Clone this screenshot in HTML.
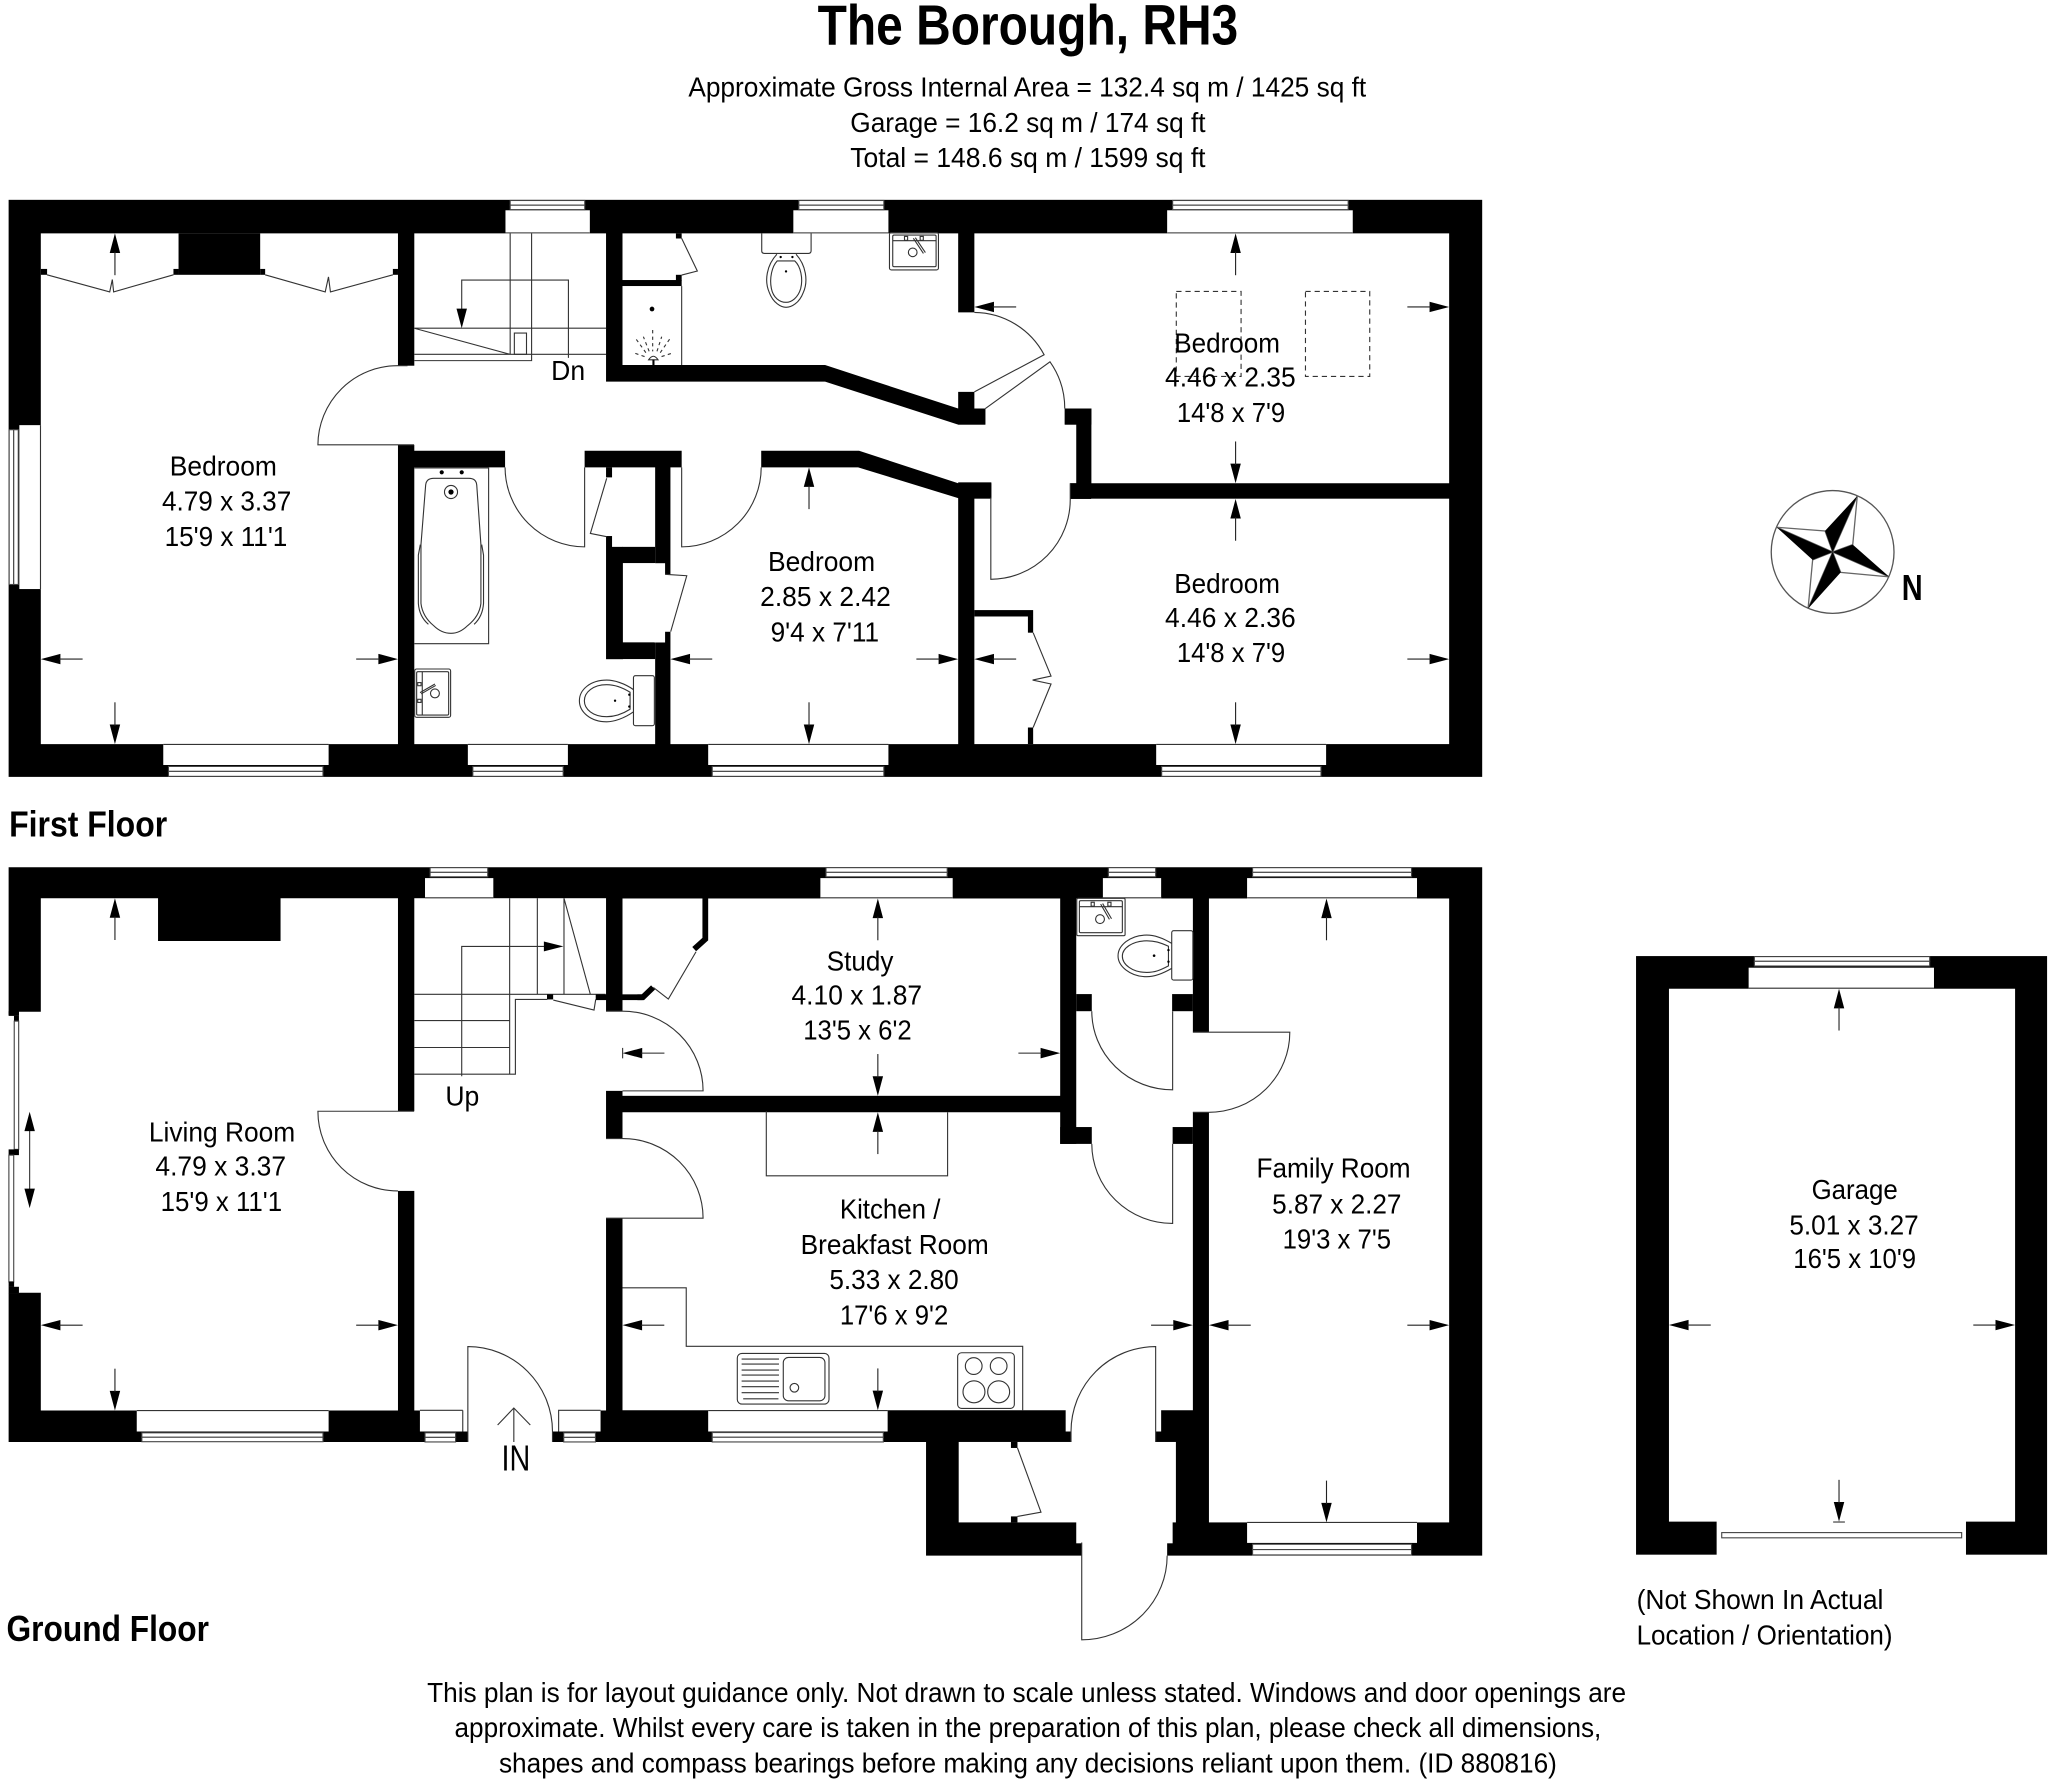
<!DOCTYPE html>
<html lang="en"><head><meta charset="utf-8"><title>The Borough, RH3</title>
<style>
html,body{margin:0;padding:0;background:#fff}
svg{display:block}
text{font-family:"Liberation Sans",Arial,sans-serif;fill:#000;font-size:21px}
.b{font-weight:bold}
.w{fill:#fff;stroke:none}
.k{fill:#000;stroke:none}
.l{fill:none;stroke:#333;stroke-width:.85}
.g{fill:#fff;stroke:#444;stroke-width:.85}
</style></head><body>
<svg xmlns="http://www.w3.org/2000/svg" width="2048" height="1784" viewBox="0 0 1568 1365.88" preserveAspectRatio="none">
<defs>
<g id="a"><path d="M0 0L-4 15L4 15Z" fill="#000"/><path d="M0 14V32" stroke="#222" stroke-width=".85"/></g>
</defs>
<rect width="1568" height="1366" fill="#fff"/>

<!-- Title -->
<text class="b" x="626" y="34" style="font-size:43px" textLength="322" lengthAdjust="spacingAndGlyphs">The Borough, RH3</text>
<text x="527" y="74" textLength="519" lengthAdjust="spacingAndGlyphs">Approximate Gross Internal Area = 132.4 sq m / 1425 sq ft</text>
<text x="651" y="101" textLength="272" lengthAdjust="spacingAndGlyphs">Garage = 16.2 sq m / 174 sq ft</text>
<text x="651" y="128" textLength="272" lengthAdjust="spacingAndGlyphs">Total = 148.6 sq m / 1599 sq ft</text>

<!-- FIRST FLOOR -->
<rect class="k" x="6.6" y="153" width="1128.2" height="441.8"/>
<!-- rooms -->
<path class="w" d="M31.25 178.7H304.7V569.7H31.25Z"/>
<path class="w" d="M317.2 178.7H464V292.2H631.7L733.6 325.1H824V370H733.6L657.7 345.1H317.2Z"/>
<rect class="w" x="304" y="280" width="14" height="60.6"/>
<path class="w" d="M476.6 178.7H733.6V239.2H747V300H733.6V312.8L631.7 279.5H476.6Z"/>
<path class="w" d="M746 178.7H1109.5V370H835.6V312.8H746Z"/>
<rect class="w" x="754.4" y="312" width="60.8" height="14"/>
<rect class="w" x="759" y="369" width="60.4" height="14"/>
<rect class="w" x="746" y="381.8" width="363.5" height="187.9"/>
<path class="w" d="M317.2 357.8H501.6V569.7H317.2Z"/>
<path class="w" d="M513.3 357.8H657L733.6 381.4V569.7H513.3Z"/>
<rect class="w" x="386.7" y="344" width="60.9" height="14.5"/>
<rect class="w" x="521.9" y="344" width="60.9" height="14.5"/>
<!-- black items -->
<rect class="k" x="136.7" y="178.7" width="62.5" height="31.7"/>
<rect class="k" x="31.25" y="205.9" width="4.8" height="4.5"/>
<rect class="k" x="132.8" y="205.9" width="4" height="4.5"/>
<rect class="k" x="199.2" y="205.9" width="3.8" height="4.5"/>
<rect class="k" x="300.8" y="205.9" width="3.9" height="4.5"/>
<rect class="k" x="476.6" y="214.4" width="45.3" height="4.6"/>
<rect class="k" x="517.5" y="178.7" width="4.4" height="3.9"/>
<rect class="k" x="517.5" y="210.4" width="4.4" height="4.6"/>
<rect class="k" x="733.6" y="312.8" width="20.8" height="12.3"/>
<rect class="k" x="815.2" y="312.8" width="20.4" height="12.3"/>
<rect class="k" x="733.6" y="369.3" width="25.4" height="12.1"/>
<rect class="k" x="819.4" y="370" width="16" height="12"/>
<rect class="k" x="464" y="410.4" width="4.6" height="8.4"/>
<rect class="k" x="464" y="418.7" width="12.9" height="86"/>
<rect class="k" x="476.6" y="418.7" width="25" height="12.4"/>
<rect class="k" x="476.6" y="491.8" width="25" height="12.8"/>
<rect class="k" x="464" y="357.8" width="4.6" height="7.7"/>
<rect class="w" x="501" y="431.2" width="8.2" height="60.7"/>
<rect class="w" x="509" y="439.7" width="5" height="44"/>
<rect class="k" x="746" y="467.1" width="45" height="4.9"/>
<rect class="k" x="787" y="472" width="4" height="12.4"/>
<rect class="k" x="787" y="557" width="4" height="12.7"/>

<!-- first floor windows -->
<g>
<rect class="w" x="387" y="161" width="64.6" height="17.7"/><rect class="g" x="390.6" y="153.5" width="57.1" height="3.6"/><rect class="g" x="390.6" y="157.1" width="57.1" height="3.4"/><path class="l" d="M387 178.3H451.6"/>
<rect class="w" x="607.4" y="161" width="72.8" height="17.7"/><rect class="g" x="611.6" y="153.5" width="65.1" height="3.6"/><rect class="g" x="611.6" y="157.1" width="65.1" height="3.4"/><path class="l" d="M607.4 178.3H680.2"/>
<rect class="w" x="893.6" y="161" width="142.1" height="17.7"/><rect class="g" x="897.8" y="153.5" width="134.4" height="3.6"/><rect class="g" x="897.8" y="157.1" width="134.4" height="3.4"/><path class="l" d="M893.6 178.3H1035.7"/>
<rect class="w" x="125" y="569.5" width="126.6" height="16.2"/><rect class="g" x="129" y="586.8" width="118.3" height="3.8"/><rect class="g" x="129" y="590.6" width="118.3" height="3.8"/><path class="l" d="M125 570H251.6"/>
<rect class="w" x="358.2" y="569.5" width="76.6" height="16.2"/><rect class="g" x="362" y="586.8" width="69.2" height="3.8"/><rect class="g" x="362" y="590.6" width="69.2" height="3.8"/><path class="l" d="M358.2 570H434.8"/>
<rect class="w" x="542.2" y="569.5" width="138" height="16.2"/><rect class="g" x="545.3" y="586.8" width="131.4" height="3.8"/><rect class="g" x="545.3" y="590.6" width="131.4" height="3.8"/><path class="l" d="M542.2 570H680.2"/>
<rect class="w" x="885.2" y="569.5" width="130.1" height="16.2"/><rect class="g" x="889.4" y="586.8" width="122" height="3.8"/><rect class="g" x="889.4" y="590.6" width="122" height="3.8"/><path class="l" d="M885.2 570H1015.3"/>
<rect class="w" x="14.8" y="325.5" width="16.8" height="125.5"/><rect class="g" x="7" y="329" width="3.5" height="118.5"/><rect class="g" x="10.5" y="329" width="3.5" height="118.5"/><path class="l" d="M31 325.5V451"/>
</g>
<!-- first floor lines -->
<path class="l" d="M36 210.4L84 223.5L86 214L87 223.5L132.8 210.4M203 210.4L249 223.5L251.5 212L253 223.5L300.8 210.4"/>
<path class="l" d="M317.2 251.3H464M317.2 271.3H464M317.2 276.1H407V178.7M390.6 178.7V271.3M317.2 251.3L390.6 271.3"/>
<rect class="l" x="393.8" y="255" width="9.3" height="16.3"/>
<path class="l" d="M435.2 274V214.4H353.5V240"/>
<path class="k" d="M353.5 251.3L349.5 236.3H357.5Z"/>
<path class="l" d="M312 280H304.7A61 61 0 0 0 243.4 340.6H317"/>
<path class="l" d="M447.6 357.8V418.7A61 61 0 0 1 386.7 357.8"/>
<path class="l" d="M521.9 357.8V418.7A61 61 0 0 0 582.8 357.8"/>
<path class="l" d="M746 300L799.4 271.6A61 61 0 0 0 746 239.2"/>
<path class="l" d="M754.4 312.8L803.9 277A62 62 0 0 1 815.2 312.8"/>
<path class="l" d="M758.6 381V443.5A61 61 0 0 0 819.4 382V370"/>
<path class="l" d="M521.9 182.5L533.9 207.5L521.9 210.6"/>
<path class="l" d="M464.5 366.2L452 408.4L464.5 410.9"/>
<path class="l" d="M509.2 439.7L525.8 440.8L513.5 483.6"/>
<path class="l" d="M791 484.4L804.7 517.6L790.6 520.7L804.7 523.7L791 557"/>
<path class="l" d="M521.9 219V279.5"/>
<rect class="l" x="900.6" y="223.1" width="49.6" height="65.1" stroke-dasharray="4 3"/>
<rect class="l" x="999.5" y="223.1" width="49.2" height="65.1" stroke-dasharray="4 3"/>
<!-- bath -->
<path class="l" d="M317.2 358.3H374.1V492.8H317.2"/>
<path class="l" d="M325.9 371.3Q326.5 366.2 332 366.2H359Q364.5 366.2 365 371.3L368.2 417V462Q367 472 358 479Q352 484.9 345.3 484.9Q338 484.9 332 479Q323.5 472 322.3 462V417Z"/>
<path class="l" d="M321.8 417L320.3 425V462Q321 472 328 478M368.8 417L370.2 425V462Q369.5 472 363 478"/>
<circle class="l" cx="345.3" cy="376.7" r="5"/><circle class="k" cx="345.3" cy="376.7" r="2"/>
<circle class="k" cx="338.2" cy="361.6" r="1.6"/><circle class="k" cx="353.5" cy="361.6" r="1.6"/>
<!-- bath sink -->
<rect class="l" x="317.5" y="512.2" width="27.5" height="37" rx="1.5"/><rect class="l" x="319" y="514.3" width="24.5" height="33.2" rx="1"/>
<path class="l" d="M323.3 514.3V547.5"/>
<circle class="l" cx="333" cy="530.9" r="3.4"/>
<path class="l" d="M321.6 530.3L333 523.7M322.4 531.3L333.6 524.8"/>
<rect class="l" x="319.8" y="522.6" width="2.6" height="2.4"/><rect class="l" x="319.8" y="535.4" width="2.6" height="2.4"/>
<!-- bath toilet -->
<rect class="l" x="485" y="517.3" width="16" height="38.3" rx="1.5"/>
<path class="l" d="M485 528C478 523 470 520.7 464.5 520.7C452 520.7 443.6 528 443.6 536.5C443.6 545 452 552.6 464.5 552.6C470 552.6 478 550 485 545"/>
<path class="l" d="M482.4 530C476 526 470 524.2 464.5 524.2C454 524.2 447.4 530 447.4 536.5C447.4 543 454 548.7 464.5 548.7C470 548.7 476 547 482.4 543Z"/>
<circle class="k" cx="481.8" cy="531.9" r=".9"/><circle class="k" cx="481.8" cy="541" r=".9"/><circle class="k" cx="470.9" cy="536.5" r=".9"/>
<!-- upper toilet -->
<path class="l" d="M583.2 178.7V192Q583.2 194 585.2 194H619Q621 194 621 192V178.7"/>
<path class="l" d="M594.8 194.7C587 203 585 215 589 224C592 232 598 235.3 601.8 235.3C606 235.3 612 232 615 224C619 215 617 203 609.5 194.7"/>
<path class="l" d="M595 199.8H608.5C613 204 615 213 613 221C611 228 606 231.5 601.8 231.5C597 231.5 592 228 590.6 221C589 213 591 204 595 199.8Z"/>
<circle class="k" cx="597.7" cy="196.8" r=".9"/><circle class="k" cx="606.7" cy="196.8" r=".9"/><circle class="k" cx="601.8" cy="207.8" r=".9"/>
<!-- upper sink -->
<rect class="l" x="681" y="178.1" width="37.5" height="28.6" rx="1.5"/><rect class="l" x="683.5" y="180" width="33.2" height="24.2" rx="1"/>
<path class="l" d="M683.5 184.3H716.7M699.3 182.5L707 194M700.8 182L708.5 193.4"/>
<circle class="l" cx="698.8" cy="193.2" r="3.3"/>
<rect class="l" x="692.5" y="181" width="2.4" height="3"/><rect class="l" x="704.5" y="181" width="2.4" height="3"/>
<!-- shower -->
<circle class="k" cx="499.2" cy="236.6" r="1.8"/>
<path class="l" d="M496.6 275.5Q500.2 270 503.8 275.5Z"/>
<path class="l" stroke-dasharray="2.5 2.5" d="M499.7 252.7V269M497 269L492.6 257.8M503 269L506.6 257.8M494.5 270L486.2 258.5M505.5 270L513.5 258.5M493.5 273L486.2 270.5M506.5 273L514.3 270.5"/>
<rect class="k" x="499.5" y="275.4" width="1.6" height="4.1"/>

<!-- first floor arrows -->
<use href="#a" transform="translate(88 178.7)"/>
<use href="#a" transform="translate(88 569.7) rotate(180)"/>
<use href="#a" transform="translate(31.25 504.6) rotate(-90)"/>
<use href="#a" transform="translate(304.7 504.6) rotate(90)"/>
<use href="#a" transform="translate(946 178.7)"/>
<use href="#a" transform="translate(946 370) rotate(180)"/>
<use href="#a" transform="translate(746 235) rotate(-90)"/>
<use href="#a" transform="translate(1109.5 235) rotate(90)"/>
<use href="#a" transform="translate(946 382)"/>
<use href="#a" transform="translate(946 569.7) rotate(180)"/>
<use href="#a" transform="translate(746 504.6) rotate(-90)"/>
<use href="#a" transform="translate(1109.5 504.6) rotate(90)"/>
<use href="#a" transform="translate(619.4 357.8)"/>
<use href="#a" transform="translate(619.4 569.7) rotate(180)"/>
<use href="#a" transform="translate(513.3 504.6) rotate(-90)"/>
<use href="#a" transform="translate(733.6 504.6) rotate(90)"/>

<!-- GROUND FLOOR -->
<path class="k" d="M6.6 664H1134.8V1191H709V1104H6.6Z"/>
<path class="w" d="M31.25 687.7H121V720.5H214.8V687.7H304.7V1079.9H31.25V989.8H14.5V774.6H31.25Z"/>
<rect class="w" x="304" y="850.8" width="14" height="61"/>
<rect class="w" x="317.2" y="687.7" width="146.8" height="392.2"/>
<rect class="w" x="463" y="774.2" width="14.5" height="61"/>
<rect class="w" x="463" y="871.7" width="14.5" height="61"/>
<rect class="w" x="476.6" y="687.9" width="335.1" height="151.1"/>
<path class="w" d="M476.6 851.6H811.7V875.8H913.3V1079.7H476.6Z"/>
<rect class="w" x="824" y="687.9" width="89.3" height="188.6"/>
<rect class="k" x="824" y="761.1" width="11.9" height="13.1"/>
<rect class="k" x="897.4" y="761.1" width="15.9" height="13.1"/>
<rect class="k" x="811.7" y="862.9" width="24.2" height="12.9"/>
<rect class="k" x="897.8" y="862.9" width="15.5" height="12.9"/>
<rect class="w" x="912.8" y="790.3" width="13.4" height="61.3"/>
<rect class="w" x="925.6" y="687.9" width="183.9" height="477.7"/>
<rect class="w" x="815.9" y="1079" width="73.1" height="17"/>
<rect class="w" x="819.8" y="1095.5" width="65" height="9.5"/>
<rect class="w" x="734" y="1104" width="166.3" height="61.6"/>
<rect class="w" x="824" y="1165" width="73.8" height="16.6"/>
<rect class="w" x="828.2" y="1181" width="65.4" height="11"/>
<!-- front door gap -->
<rect class="w" x="358.2" y="1079" width="64.8" height="27"/>
<rect class="w" x="354" y="1079" width="74" height="17"/>
<rect class="w" x="321.5" y="1079.5" width="32.8" height="16.5"/>
<rect class="w" x="427.7" y="1079.5" width="32.1" height="16.5"/>
<rect class="g" x="325.4" y="1097" width="23.4" height="3.5"/><rect class="g" x="325.4" y="1100.5" width="23.4" height="3.5"/>
<rect class="g" x="431.6" y="1097" width="24.3" height="3.5"/><rect class="g" x="431.6" y="1100.5" width="24.3" height="3.5"/>
<path class="l" d="M354.3 1079.8V1096M321.5 1079.8H354.3M427.7 1096V1079.8H459.8"/>
<!-- west bay -->
<rect class="w" x="6" y="777" width="8.6" height="213"/>
<rect class="k" x="6.6" y="774.2" width="7.9" height="3.6"/>
<rect class="k" x="10.7" y="777.7" width="3.8" height="4.2"/>
<rect class="g" x="10.9" y="781.8" width="3.4" height="98.2"/>
<rect class="k" x="6.6" y="880" width="7.9" height="4.4"/>
<rect class="g" x="6.8" y="884.4" width="3.7" height="97"/>
<rect class="k" x="6.6" y="981.3" width="4.2" height="4"/>
<rect class="k" x="6.6" y="985.2" width="7.9" height="5"/>
<!-- ground windows -->
<rect class="w" x="325.4" y="672.3" width="52.3" height="16"/><rect class="g" x="329.3" y="664.3" width="44.1" height="3.6"/><rect class="g" x="329.3" y="667.9" width="44.1" height="3.4"/><path class="l" d="M325.4 687.4H377.7"/>
<rect class="w" x="628.1" y="672.3" width="101.3" height="16"/><rect class="g" x="632.4" y="664.3" width="92.8" height="3.6"/><rect class="g" x="632.4" y="667.9" width="92.8" height="3.4"/><path class="l" d="M628.1 687.4H729.4"/>
<rect class="w" x="844.4" y="672.3" width="44.6" height="16"/><rect class="g" x="848.6" y="664.3" width="36.2" height="3.6"/><rect class="g" x="848.6" y="667.9" width="36.2" height="3.4"/><path class="l" d="M844.4 687.4H889"/>
<rect class="w" x="954.8" y="672.3" width="130.1" height="16"/><rect class="g" x="959" y="664.3" width="121.7" height="3.6"/><rect class="g" x="959" y="667.9" width="121.7" height="3.4"/><path class="l" d="M954.8 687.4H1084.9"/>
<rect class="w" x="954.8" y="1165" width="130.1" height="16.3"/><rect class="g" x="959" y="1182.3" width="121.7" height="4.1"/><rect class="g" x="959" y="1186.4" width="121.7" height="4.1"/><path class="l" d="M954.8 1165.6H1084.9"/>
<rect class="w" x="104.7" y="1079.5" width="146.9" height="16.5"/><rect class="g" x="108.6" y="1097" width="138.7" height="3.4"/><rect class="g" x="108.6" y="1100.4" width="138.7" height="3.4"/><path class="l" d="M104.7 1080H251.6"/>
<rect class="w" x="542.2" y="1079" width="137.4" height="17"/><rect class="g" x="545.3" y="1096.8" width="131" height="3.6"/><rect class="g" x="545.3" y="1100.4" width="131" height="3.6"/><path class="l" d="M542.2 1080H679.6"/>
<!-- stairs -->
<path class="l" d="M390.2 687.7V822.4M411.4 687.7V761M431.8 687.7L452 761.3M431.8 687.7V761M317.2 761.3H463.7M317.2 781.4H390.2M317.2 802H390.2M317.2 822.4H394.6V765.2H419"/>
<path class="l" d="M353.5 824V724.6H418"/>
<path class="k" d="M431.4 724.6L416.4 720.8V728.4Z"/>
<rect class="k" x="418.8" y="761.3" width="4.7" height="3.9"/>
<path class="l" d="M423.6 765.7L454.8 773.3L456.1 765.2"/>
<rect class="k" x="456.1" y="761.3" width="36" height="4.4"/>
<path d="M488 763.5H492.2L500 756" fill="none" stroke="#000" stroke-width="4.4"/>
<path d="M540 687.7V719L531.5 726.7" fill="none" stroke="#000" stroke-width="4.4"/>
<path class="l" d="M500.2 756L511.7 764.9L532.9 728.7"/>
<!-- ground doors -->
<path class="l" d="M317 850.8H243.4A61 61 0 0 0 304.7 911.8"/>
<path class="l" d="M464 774.2H476.6A61.5 61 0 0 1 538.3 835.2H476.6"/>
<path class="l" d="M464 871.7H476.6A61.5 61 0 0 1 538.3 932.7H464"/>
<path class="l" d="M897.8 774.2V834.4A61.9 60.2 0 0 1 835.9 774.2"/>
<path class="l" d="M897.8 875.8V936.7A61.9 61 0 0 1 835.9 875.8"/>
<path class="l" d="M913.3 790.3H987.5A61.9 61.3 0 0 1 925.6 851.6H913.3"/>
<path class="l" d="M884.8 1104V1031A64.8 65 0 0 0 820 1096V1104"/>
<path class="l" d="M828.2 1181V1255.5A65.4 64.5 0 0 0 893.6 1191"/>
<path class="l" d="M358.2 1104V1031A64.8 65 0 0 1 423 1096V1104"/>
<!-- lean-to cupboard -->
<rect class="k" x="774" y="1104" width="5" height="4.6"/>
<rect class="k" x="774" y="1161" width="5" height="4.6"/>
<path class="l" d="M779 1108.6L797 1157.8L779 1161"/>
<!-- IN arrow -->
<path class="l" d="M381 1091L393.4 1078L406 1091M393.4 1078V1104"/>
<!-- kitchen -->
<path class="l" d="M476.6 986H525.4V1030.8H783V1079.7"/>
<path class="l" d="M586.7 850.8V900.2H725.5V851.6"/>
<rect class="l" x="564.5" y="1036.2" width="70.2" height="38.8" rx="3.5"/>
<rect class="l" x="599.7" y="1039.3" width="31.9" height="33.2" rx="4"/>
<circle class="l" cx="608.2" cy="1062.5" r="3.3"/>
<path class="l" d="M567.8 1040.5H596.4M567.8 1044.4H596.4M567.8 1049H596.4M567.8 1052.8H596.4M567.8 1057.4H596.4M567.8 1061.7H596.4M567.8 1066.3H596.4M569 1071H596"/>
<rect class="l" x="733.2" y="1035.7" width="43.4" height="42.6" rx="3"/>
<circle class="l" cx="745.5" cy="1045.9" r="6.4"/><circle class="l" cx="764.6" cy="1045.9" r="6.4"/>
<circle class="l" cx="745.7" cy="1065.6" r="8.4"/><circle class="l" cx="764.6" cy="1065.6" r="8.4"/>
<!-- WC -->
<rect class="l" x="824.4" y="687.8" width="37" height="28.6" rx="1"/><rect class="l" x="826.4" y="689.6" width="32.9" height="24.5" rx="1"/>
<path class="l" d="M826.4 694.2H859.3M842.7 692.2L849.4 703.9M844.2 691.8L851 703.4"/>
<circle class="l" cx="842.2" cy="703.7" r="3.4"/>
<rect class="l" x="835.4" y="690.8" width="2.4" height="3"/><rect class="l" x="848.2" y="690.8" width="2.4" height="3"/>
<rect class="l" x="897.1" y="712.6" width="16.2" height="37.8" rx="1.5"/>
<path class="l" d="M897.1 722.3C890 718 884 715.9 878 715.9C865 715.9 856 724 856 731.8C856 739.5 865 747.8 878 747.8C884 747.8 890 745.5 897.1 741.4"/>
<path class="l" d="M894.6 724.5C888 721.5 884 720.3 878 720.3C867 720.3 859.3 726 859.3 732C859.3 738.5 867 744.5 878 744.5C884 744.5 888 743 894.6 739.5Z"/>
<circle class="k" cx="894.6" cy="727.4" r=".9"/><circle class="k" cx="894.6" cy="736.3" r=".9"/><circle class="k" cx="883.6" cy="731.7" r="1"/>
<!-- ground arrows -->
<use href="#a" transform="translate(88 687.7)"/>
<use href="#a" transform="translate(88 1079.9) rotate(180)"/>
<use href="#a" transform="translate(31.25 1014.6) rotate(-90)"/>
<use href="#a" transform="translate(304.7 1014.6) rotate(90)"/>
<path class="l" d="M22.7 860V915"/><path class="k" d="M22.7 851.2L18.7 866H26.7ZM22.7 925L18.7 910H26.7Z"/>
<use href="#a" transform="translate(672.1 851.6)"/>
<use href="#a" transform="translate(672.1 1079.7) rotate(180)"/>
<use href="#a" transform="translate(476.6 1014.6) rotate(-90)"/>
<use href="#a" transform="translate(913.3 1014.6) rotate(90)"/>
<use href="#a" transform="translate(672.1 687.9)"/>
<use href="#a" transform="translate(672.1 839) rotate(180)"/>
<use href="#a" transform="translate(476.7 806.3) rotate(-90)"/><path class="l" d="M476.7 802.3V810.3"/>
<use href="#a" transform="translate(811.7 806.3) rotate(90)"/>
<use href="#a" transform="translate(1015.6 687.9)"/>
<use href="#a" transform="translate(1015.6 1165.6) rotate(180)"/>
<use href="#a" transform="translate(925.6 1014.6) rotate(-90)"/>
<use href="#a" transform="translate(1109.5 1014.6) rotate(90)"/>

<!-- GARAGE -->
<rect class="k" x="1252.6" y="732" width="314.7" height="458.3"/>
<rect class="w" x="1277.8" y="757" width="265" height="408"/>
<rect class="w" x="1314.3" y="1164" width="190.9" height="27"/>
<rect class="g" x="1318.2" y="1173.4" width="183.7" height="4"/>
<rect class="w" x="1338.8" y="740.9" width="141.9" height="16.2"/>
<rect class="g" x="1343.2" y="732.4" width="134.2" height="3.6"/><rect class="g" x="1343.2" y="736" width="134.2" height="3.6"/>
<path class="l" d="M1338.8 756.6H1480.7"/>
<use href="#a" transform="translate(1408 757)"/>
<use href="#a" transform="translate(1408 1165) rotate(180)"/>
<path class="l" d="M1403.5 1165.3H1412.5"/>
<use href="#a" transform="translate(1277.8 1014.5) rotate(-90)"/>
<use href="#a" transform="translate(1542.8 1014.5) rotate(90)"/>

<!-- COMPASS -->
<circle cx="1403.1" cy="422.6" r="47" fill="none" stroke="#555" stroke-width="1"/>
<path d="M1422 379.7L1418.5 417L1403.1 422.6ZM1446.5 441.7L1409.3 438.2L1403.1 422.6ZM1384.3 466L1387.8 428.7L1403.1 422.6ZM1360.3 403.7L1397.3 406.5L1403.1 422.6Z" fill="#fff" stroke="#666" stroke-width="1"/>
<path class="k" d="M1422 379.7L1397.3 406.5L1403.1 422.6ZM1446.5 441.7L1418.5 417L1403.1 422.6ZM1384.3 466L1409.3 438.2L1403.1 422.6ZM1360.3 403.7L1387.8 428.7L1403.1 422.6Z"/>
<text class="b" x="1456" y="459.5" style="font-size:28px" textLength="16" lengthAdjust="spacingAndGlyphs">N</text>

<!-- Floor labels -->
<text class="b" x="7" y="640.5" style="font-size:27.5px" textLength="121" lengthAdjust="spacingAndGlyphs">First Floor</text>
<text class="b" x="5" y="1256.5" style="font-size:27.5px" textLength="155" lengthAdjust="spacingAndGlyphs">Ground Floor</text>

<!-- Room labels -->
<text x="130" y="364" textLength="82" lengthAdjust="spacingAndGlyphs">Bedroom</text>
<text x="124" y="391" textLength="99" lengthAdjust="spacingAndGlyphs">4.79 x 3.37</text>
<text x="126" y="418" textLength="94" lengthAdjust="spacingAndGlyphs">15'9 x 11'1</text>
<text x="588" y="437" textLength="82" lengthAdjust="spacingAndGlyphs">Bedroom</text>
<text x="582" y="464" textLength="100" lengthAdjust="spacingAndGlyphs">2.85 x 2.42</text>
<text x="590" y="491" textLength="83" lengthAdjust="spacingAndGlyphs">9'4 x 7'11</text>
<text x="899" y="270" textLength="81" lengthAdjust="spacingAndGlyphs">Bedroom</text>
<text x="892" y="296" textLength="100" lengthAdjust="spacingAndGlyphs">4.46 x 2.35</text>
<text x="901" y="323" textLength="83" lengthAdjust="spacingAndGlyphs">14'8 x 7'9</text>
<text x="899" y="454" textLength="81" lengthAdjust="spacingAndGlyphs">Bedroom</text>
<text x="892" y="480" textLength="100" lengthAdjust="spacingAndGlyphs">4.46 x 2.36</text>
<text x="901" y="507" textLength="83" lengthAdjust="spacingAndGlyphs">14'8 x 7'9</text>
<text x="114" y="874" textLength="112" lengthAdjust="spacingAndGlyphs">Living Room</text>
<text x="119" y="900" textLength="100" lengthAdjust="spacingAndGlyphs">4.79 x 3.37</text>
<text x="123" y="927" textLength="93" lengthAdjust="spacingAndGlyphs">15'9 x 11'1</text>
<text x="633" y="743" textLength="51" lengthAdjust="spacingAndGlyphs">Study</text>
<text x="606" y="769" textLength="100" lengthAdjust="spacingAndGlyphs">4.10 x 1.87</text>
<text x="615" y="796" textLength="83" lengthAdjust="spacingAndGlyphs">13'5 x 6'2</text>
<text x="643" y="933" textLength="77" lengthAdjust="spacingAndGlyphs">Kitchen /</text>
<text x="613" y="960" textLength="144" lengthAdjust="spacingAndGlyphs">Breakfast Room</text>
<text x="635" y="987" textLength="99" lengthAdjust="spacingAndGlyphs">5.33 x 2.80</text>
<text x="643" y="1014" textLength="83" lengthAdjust="spacingAndGlyphs">17'6 x 9'2</text>
<text x="962" y="901.5" textLength="118" lengthAdjust="spacingAndGlyphs">Family Room</text>
<text x="974" y="929" textLength="99" lengthAdjust="spacingAndGlyphs">5.87 x 2.27</text>
<text x="982" y="956" textLength="83" lengthAdjust="spacingAndGlyphs">19'3 x 7'5</text>
<text x="1387" y="918" textLength="66" lengthAdjust="spacingAndGlyphs">Garage</text>
<text x="1370" y="945" textLength="99" lengthAdjust="spacingAndGlyphs">5.01 x 3.27</text>
<text x="1373" y="971" textLength="94" lengthAdjust="spacingAndGlyphs">16'5 x 10'9</text>
<text x="341" y="846.5" textLength="26" lengthAdjust="spacingAndGlyphs">Up</text>
<text x="422" y="291" textLength="26" lengthAdjust="spacingAndGlyphs">Dn</text>
<text x="384" y="1126" style="font-size:28px" textLength="22" lengthAdjust="spacingAndGlyphs">IN</text>
<text x="1253" y="1232" textLength="189" lengthAdjust="spacingAndGlyphs">(Not Shown In Actual</text>
<text x="1253" y="1259" textLength="196" lengthAdjust="spacingAndGlyphs">Location / Orientation)</text>
<text x="327" y="1303" textLength="918" lengthAdjust="spacingAndGlyphs">This plan is for layout guidance only. Not drawn to scale unless stated. Windows and door openings are</text>
<text x="348" y="1330" textLength="878" lengthAdjust="spacingAndGlyphs">approximate. Whilst every care is taken in the preparation of this plan, please check all dimensions,</text>
<text x="382" y="1357" textLength="810" lengthAdjust="spacingAndGlyphs">shapes and compass bearings before making any decisions reliant upon them. (ID 880816)</text>
</svg>
</body></html>
